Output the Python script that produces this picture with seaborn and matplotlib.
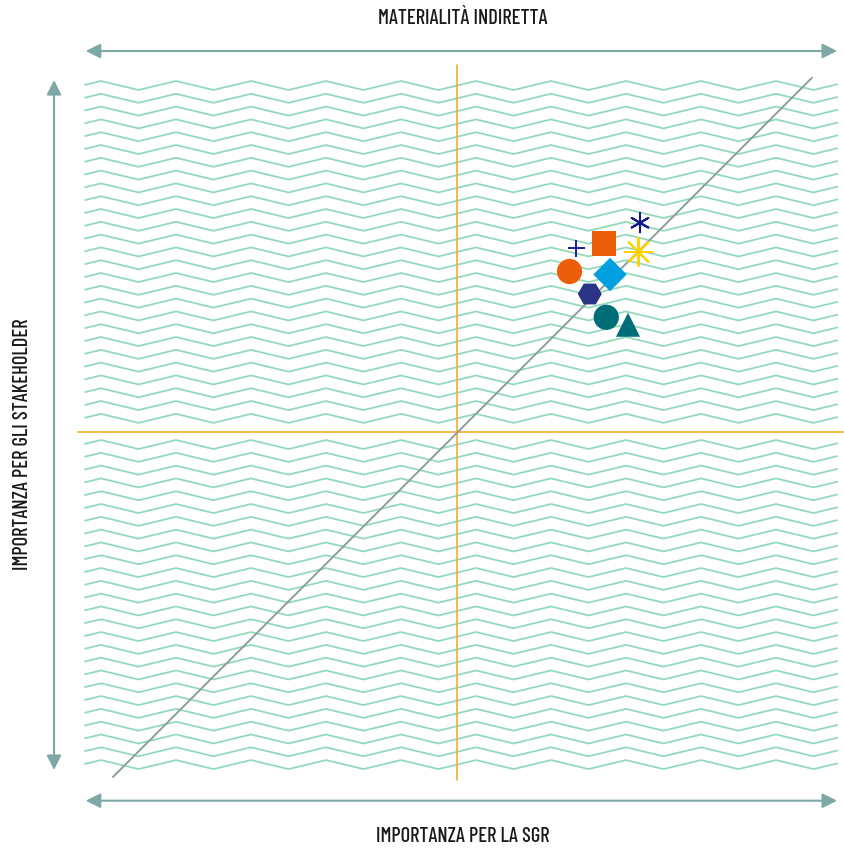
import numpy as np
import pandas as pd
import seaborn as sns
import matplotlib.pyplot as plt
from matplotlib.patches import FancyArrowPatch

sns.set_style("white")
plt.rcParams['font.family'] = ['Barlow Condensed', 'DejaVu Sans']

# topics on the materiality matrix (score 0-10, midpoint 5)
temi = ["A", "B", "C", "D", "E", "F", "G", "H", "I"]
imp_sgr = [6.59, 6.96, 7.44, 7.42, 6.50, 7.04, 6.77, 6.99, 7.28]
imp_stakeholder = [7.45, 7.51, 7.79, 7.40, 7.14, 7.10, 6.84, 6.53, 6.43]
marker_tema = ["+", "s", (6, 2, 0), (8, 2, 0), "o", "D", "H", "o", "^"]
colori_tema = ["#1B1D9A", "#EC5E0A", "#17168F", "#FFD200", "#EC5E0A",
               "#00A0E0", "#2A3384", "#006E79", "#006E79"]
size_tema = [150, 320, 190, 400, 330, 290, 300, 330, 300]
pieno = [False, True, False, False, True, True, True, True, True]

df = pd.DataFrame({"tema": temi, "sgr": imp_sgr, "stake": imp_stakeholder,
                   "pieno": pieno})
palette = dict(zip(temi, colori_tema))
markers = dict(zip(temi, marker_tema))
sizes = dict(zip(temi, size_tema))

fig = plt.figure(figsize=(8.45, 8.48), dpi=100)
ax = fig.add_axes([0, 0, 1, 1])
ax.set_xlim(-1.0933, 10.173)
ax.set_ylim(-0.5467, 10.76)
ax.axis("off")

# zigzag background
x0, x1 = 0.04, 10.07
righe_su = 9.68 - 0.1707 * np.arange(27)
righe_giu = 4.893 - 0.1707 * np.arange(26)
xs = np.arange(-0.747, 10.8, 0.5)
for yb in np.concatenate([righe_su, righe_giu]):
    ys = yb - 0.12 * (np.arange(len(xs)) % 2)
    xx = np.clip(xs, x0, x1)
    yy = np.interp(xx, xs, ys)
    keep = np.r_[True, np.diff(xx) > 0]
    ax.plot(xx[keep], yy[keep], color="#93DABA", lw=1.3, zorder=1)

# quadrant lines and diagonal
ax.plot([-0.053, 10.17], [5, 5], color="#F4AE2E", lw=1.2, zorder=2)
ax.plot([5, 5], [0.36, 9.89], color="#F4AE2E", lw=1.2, zorder=2)
ax.plot([0.413, 9.733], [0.40, 9.724], color="#8C9EA0", lw=1.4, zorder=2)

# axis arrows
col_fr = "#7EA8A5"
for (a, b) in [((0.05, 10.08), (10.067, 10.08)), ((0.05, 0.084), (10.067, 0.084)),
               ((-0.373, 9.693), (-0.373, 0.493))]:
    ax.add_patch(FancyArrowPatch(a, b, arrowstyle="<|-|>", mutation_scale=22,
                                 color=col_fr, lw=1.5, shrinkA=0, shrinkB=0))

# topics
for filled, sub in df.groupby("pieno"):
    t = list(sub["tema"])
    sns.scatterplot(data=sub, x="sgr", y="stake", hue="tema", style="tema",
                    size="tema", sizes={k: sizes[k] for k in t},
                    palette={k: palette[k] for k in t},
                    markers={k: markers[k] for k in t},
                    legend=False, ax=ax, zorder=5,
                    linewidth=0 if filled else 1.4)
ax.set_xlim(-1.0933, 10.173)
ax.set_ylim(-0.5467, 10.76)

tk = dict(fontsize=14.8, fontweight=500, color="#1a1a1a", ha="center", va="center")
fig.text(463 / 845, 1 - 19 / 848, "MATERIALITÀ INDIRETTA", **tk)
fig.text(463 / 845, 1 - 836 / 848, "IMPORTANZA PER LA SGR", **tk)
fig.text(23 / 845, 1 - 444 / 848, "IMPORTANZA PER GLI STAKEHOLDER", rotation=90, **tk)

fig.savefig("out.png", dpi=100)
